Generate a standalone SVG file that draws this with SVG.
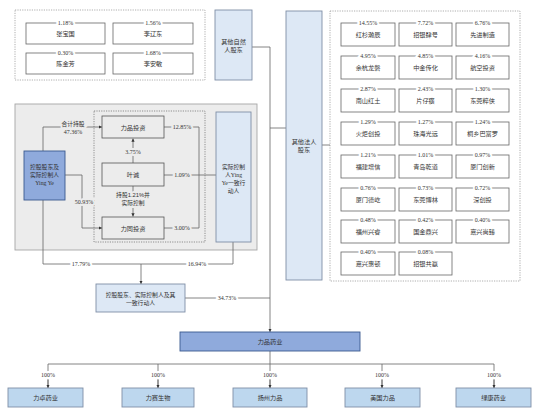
<svg xmlns="http://www.w3.org/2000/svg" width="553" height="413" viewBox="0 0 553 413">
<defs>
<marker id="ar" viewBox="0 0 6 6" refX="6" refY="3" markerWidth="4" markerHeight="4" orient="auto"><path d="M0,0 L6,3 L0,6 z" fill="#333"/></marker>
<style>
text{font-family:"Liberation Sans","Noto Sans CJK SC",sans-serif;font-size:6.2px;fill:#333;text-anchor:middle}
.p{font-family:"Liberation Serif","Noto Sans CJK SC",serif;font-size:6px}
.bw{stroke:#fff;stroke-width:4;paint-order:stroke}
.bg{stroke:#ececec;stroke-width:4;paint-order:stroke}
.dot{fill:#fff;stroke:#999;stroke-width:0.8;stroke-dasharray:1.2 1.2}
.wb{fill:#fff;stroke:#666;stroke-width:0.8}
.gb{fill:#ececec;stroke:#555;stroke-width:0.8}
.lb{fill:#dde8f5;stroke:#7f8fa6;stroke-width:0.9}
.db{fill:#8faadc;stroke:#3b5a8f;stroke-width:0.9}
.sb{fill:#bdd7ee;stroke:#7f8fa6;stroke-width:0.9}
.ln{fill:none;stroke:#666;stroke-width:0.8}
.m{font-family:"Liberation Serif","Noto Sans CJK SC",serif}
.s{font-size:5.8px}
</style>
</defs>
<rect x="0" y="0" width="553" height="413" fill="#fff"/>

<!-- containers -->
<g id="natural-group">
<rect class="dot" x="15" y="10" width="190" height="70"/>
</g>
<g id="grey-area">
<rect x="15" y="104" width="242" height="146" fill="#ececec" stroke="#a6a6a6" stroke-width="0.9"/>
<rect x="94" y="111" width="111" height="131" fill="none" stroke="#777" stroke-width="0.8" stroke-dasharray="1.2 1.2"/>
</g>
<g id="legal-group">
<rect class="dot" x="330" y="11" width="190" height="270"/>
</g>

<!-- connectors -->
<g id="connectors">
<path class="ln" d="M252,47 H270 V332" marker-end="url(#ar)"/>
<path class="ln" d="M270,128 H286"/>
<path class="ln" d="M322,145 H330"/>
<path class="ln" d="M43,151 V127 H102" marker-end="url(#ar)"/>
<path class="ln" d="M65,175 H82 V228 H102" marker-end="url(#ar)"/>
<path class="ln" d="M164,127 H199 V228 H164"/>
<path class="ln" d="M164,175 H216"/>
<path class="ln" d="M133,163 V138.5" marker-end="url(#ar)"/>
<path class="ln" d="M133,186 V216.5" marker-end="url(#ar)"/>
<path class="ln" d="M43,200 V264 H233 V242"/>
<path class="ln" d="M141,264 V284" marker-end="url(#ar)"/>
<path class="ln" d="M185,298 H270"/>
<path class="ln" d="M270,351 V364 M48,388 V364 H494 V388 M158,364 V388 M270,364 V388 M382,364 V388"/>
<path class="ln" d="M48,380 V388" marker-end="url(#ar)"/>
<path class="ln" d="M158,380 V388" marker-end="url(#ar)"/>
<path class="ln" d="M270,380 V388" marker-end="url(#ar)"/>
<path class="ln" d="M382,380 V388" marker-end="url(#ar)"/>
<path class="ln" d="M494,380 V388" marker-end="url(#ar)"/>
<!-- connector labels -->
<text class="bg s" x="73" y="125.5">合计持股</text>
<text class="p bg" x="73" y="133.5">47.36%</text>
<text class="p bg" x="84" y="204">50.93%</text>
<text class="p bg" x="182" y="129">12.85%</text>
<text class="p bg" x="182" y="177">1.09%</text>
<text class="p bg" x="182" y="230">3.00%</text>
<text class="p bg" x="133" y="154">3.75%</text>
<text class="bg s" x="133" y="197">持股1.21%并</text>
<text class="bg s" x="133" y="205">实际控制</text>
<text class="p bw" x="81" y="266">17.79%</text>
<text class="p bw" x="197" y="266">16.94%</text>
<text class="p bw" x="227" y="300">34.73%</text>
<text class="p bw" x="48" y="377">100%</text>
<text class="p bw" x="158" y="377">100%</text>
<text class="p bw" x="270" y="377">100%</text>
<text class="p bw" x="382" y="377">100%</text>
<text class="p bw" x="494" y="377">100%</text>
</g>

<!-- natural persons -->
<g id="n-zhangbaoguo"><rect class="wb" x="26" y="23" width="79" height="21"/><text x="65.5" y="36">张宝国</text><text class="p bw" x="65.5" y="25">1.18%</text></g>
<g id="n-liliaodong"><rect class="wb" x="113" y="23" width="80" height="21"/><text x="153" y="36">李辽东</text><text class="p bw" x="153" y="25">1.56%</text></g>
<g id="n-chenjinfang"><rect class="wb" x="26" y="53" width="79" height="21"/><text x="65.5" y="66">陈金芳</text><text class="p bw" x="65.5" y="55">0.30%</text></g>
<g id="n-lianmin"><rect class="wb" x="113" y="53" width="80" height="21"/><text x="153" y="66">李安敏</text><text class="p bw" x="153" y="55">1.68%</text></g>

<g id="other-natural"><rect class="lb" x="215" y="10" width="37" height="70"/><text x="233.5" y="44">其他自然</text><text x="233.5" y="52">人股东</text></g>
<g id="other-legal"><rect class="lb" x="286" y="11" width="36" height="269"/><text x="304" y="144">其他法人</text><text x="304" y="152">股东</text></g>

<!-- legal persons -->
<g id="l1"><rect class="wb" x="341" y="23" width="54" height="23"/><text x="368" y="37">红杉瀚辰</text><text class="p bw" x="368" y="25">14.55%</text></g>
<g id="l2"><rect class="wb" x="399" y="23" width="53" height="23"/><text x="425.5" y="37">招银肆号</text><text class="p bw" x="425.5" y="25">7.72%</text></g>
<g id="l3"><rect class="wb" x="456" y="23" width="53" height="23"/><text x="482.5" y="37">先进制造</text><text class="p bw" x="482.5" y="25">6.76%</text></g>
<g id="l4"><rect class="wb" x="341" y="56" width="54" height="23"/><text x="368" y="70">余杭龙磐</text><text class="p bw" x="368" y="58">4.95%</text></g>
<g id="l5"><rect class="wb" x="399" y="56" width="53" height="23"/><text x="425.5" y="70">中金传化</text><text class="p bw" x="425.5" y="58">4.85%</text></g>
<g id="l6"><rect class="wb" x="456" y="56" width="53" height="23"/><text x="482.5" y="70">航空投资</text><text class="p bw" x="482.5" y="58">4.16%</text></g>
<g id="l7"><rect class="wb" x="341" y="89" width="54" height="23"/><text x="368" y="103">南山红土</text><text class="p bw" x="368" y="91">2.87%</text></g>
<g id="l8"><rect class="wb" x="399" y="89" width="53" height="23"/><text x="425.5" y="103">片仔癀</text><text class="p bw" x="425.5" y="91">2.43%</text></g>
<g id="l9"><rect class="wb" x="456" y="89" width="53" height="23"/><text x="482.5" y="103">东莞粹侠</text><text class="p bw" x="482.5" y="91">1.30%</text></g>
<g id="l10"><rect class="wb" x="341" y="122" width="54" height="23"/><text x="368" y="136">火炬创投</text><text class="p bw" x="368" y="124">1.29%</text></g>
<g id="l11"><rect class="wb" x="399" y="122" width="53" height="23"/><text x="425.5" y="136">珠海光远</text><text class="p bw" x="425.5" y="124">1.27%</text></g>
<g id="l12"><rect class="wb" x="456" y="122" width="53" height="23"/><text x="482.5" y="136">桐乡巴富罗</text><text class="p bw" x="482.5" y="124">1.24%</text></g>
<g id="l13"><rect class="wb" x="341" y="155" width="54" height="23"/><text x="368" y="169">福建增信</text><text class="p bw" x="368" y="157">1.21%</text></g>
<g id="l14"><rect class="wb" x="399" y="155" width="53" height="23"/><text x="425.5" y="169">青岛乾道</text><text class="p bw" x="425.5" y="157">1.01%</text></g>
<g id="l15"><rect class="wb" x="456" y="155" width="53" height="23"/><text x="482.5" y="169">厦门创新</text><text class="p bw" x="482.5" y="157">0.97%</text></g>
<g id="l16"><rect class="wb" x="341" y="188" width="54" height="23"/><text x="368" y="202">厦门德屹</text><text class="p bw" x="368" y="190">0.76%</text></g>
<g id="l17"><rect class="wb" x="399" y="188" width="53" height="23"/><text x="425.5" y="202">东莞博林</text><text class="p bw" x="425.5" y="190">0.73%</text></g>
<g id="l18"><rect class="wb" x="456" y="188" width="53" height="23"/><text x="482.5" y="202">深创投</text><text class="p bw" x="482.5" y="190">0.72%</text></g>
<g id="l19"><rect class="wb" x="341" y="220" width="54" height="23"/><text x="368" y="234">福州兴睿</text><text class="p bw" x="368" y="222">0.48%</text></g>
<g id="l20"><rect class="wb" x="399" y="220" width="53" height="23"/><text x="425.5" y="234">国金鼎兴</text><text class="p bw" x="425.5" y="222">0.42%</text></g>
<g id="l21"><rect class="wb" x="456" y="220" width="53" height="23"/><text x="482.5" y="234">嘉兴尚臻</text><text class="p bw" x="482.5" y="222">0.40%</text></g>
<g id="l22"><rect class="wb" x="341" y="252" width="54" height="23"/><text x="368" y="266">嘉兴惠顿</text><text class="p bw" x="368" y="254">0.40%</text></g>
<g id="l23"><rect class="wb" x="399" y="252" width="53" height="23"/><text x="425.5" y="266">招银共赢</text><text class="p bw" x="425.5" y="254">0.08%</text></g>

<!-- controller area -->
<g id="controller"><rect class="db" x="24" y="151" width="41" height="49"/><text class="s" x="44.5" y="169">控股股东及</text><text class="s" x="44.5" y="177">实际控制人</text><text class="m s" x="44.5" y="185">Ying Ye</text></g>
<g id="lipin-inv"><rect class="gb" x="102" y="116" width="62" height="22"/><text x="133" y="129.5">力品投资</text></g>
<g id="yecheng"><rect class="gb" x="102" y="163" width="62" height="23"/><text x="133" y="177">叶诚</text></g>
<g id="litong-inv"><rect class="gb" x="102" y="217" width="62" height="22"/><text x="133" y="230.5">力同投资</text></g>
<g id="concert"><rect class="lb" x="216" y="112" width="35" height="130"/><text class="s" x="233.5" y="169">实际控制</text><text class="s" x="233.5" y="177"><tspan>人</tspan><tspan class="m">Ying</tspan></text><text class="s" x="233.5" y="185"><tspan class="m">Ye</tspan><tspan>一致行</tspan></text><text class="s" x="233.5" y="193">动人</text></g>
<g id="combined"><rect class="lb" x="96" y="284" width="89" height="28"/><text class="s" x="140.5" y="296.5">控股股东、实际控制人及其</text><text class="s" x="140.5" y="304.5">一致行动人</text></g>

<g id="lipin-pharma"><rect class="db" x="180" y="332" width="180" height="19"/><text x="270" y="344">力品药业</text></g>

<g id="s1"><rect class="sb" x="8" y="388" width="75" height="19"/><text x="45.5" y="400">力卓药业</text></g>
<g id="s2"><rect class="sb" x="122" y="388" width="72" height="19"/><text x="158" y="400">力赛生物</text></g>
<g id="s3"><rect class="sb" x="233" y="388" width="74" height="19"/><text x="270" y="400">扬州力品</text></g>
<g id="s4"><rect class="sb" x="345" y="388" width="75" height="19"/><text x="382.5" y="400">美国力品</text></g>
<g id="s5"><rect class="sb" x="456" y="388" width="75" height="19"/><text x="493.5" y="400">绿康药业</text></g>
</svg>
